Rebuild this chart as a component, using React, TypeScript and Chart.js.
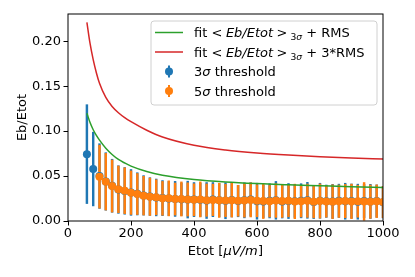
import React, { useEffect, useRef } from 'react';
import { Chart, registerables } from 'chart.js';

Chart.register(...registerables);

// ---------- data ----------
const blueX = [60, 80, 100, 120, 140, 160, 180, 200, 220, 240, 260, 280, 300, 320, 340, 360, 380, 400, 420, 440, 460, 480, 500, 520, 540, 560, 580, 600, 620, 640, 660, 680, 700, 720, 740, 760, 780, 800, 820, 840, 860, 880, 900, 920, 940, 960, 980, 1000];
const blueY = [0.0744, 0.0578, 0.0500, 0.0440, 0.0392, 0.0350, 0.0335, 0.0318, 0.0302, 0.0285, 0.0272, 0.0262, 0.0255, 0.0250, 0.0246, 0.0242, 0.0238, 0.0238, 0.0236, 0.0228, 0.0238, 0.0232, 0.0225, 0.0235, 0.0222, 0.0230, 0.0240, 0.0220, 0.0218, 0.0224, 0.0230, 0.0218, 0.0222, 0.0220, 0.0225, 0.0230, 0.0212, 0.0225, 0.0220, 0.0218, 0.0225, 0.0220, 0.0222, 0.0215, 0.0222, 0.0218, 0.0222, 0.0208];
const blueErr = [0.055, 0.041, 0.036, 0.032, 0.0295, 0.0265, 0.026, 0.0255, 0.0235, 0.022, 0.021, 0.0205, 0.0195, 0.019, 0.0195, 0.018, 0.0205, 0.019, 0.0185, 0.020, 0.019, 0.0185, 0.020, 0.019, 0.0175, 0.0195, 0.0185, 0.020, 0.018, 0.019, 0.021, 0.0185, 0.0195, 0.018, 0.019, 0.020, 0.0185, 0.0195, 0.018, 0.019, 0.0185, 0.020, 0.019, 0.0195, 0.0185, 0.019, 0.018, 0.0175];

const orangeX = [100, 120, 140, 160, 180, 200, 220, 240, 260, 280, 300, 320, 340, 360, 380, 400, 420, 440, 460, 480, 500, 520, 540, 560, 580, 600, 620, 640, 660, 680, 700, 720, 740, 760, 780, 800, 820, 840, 860, 880, 900, 920, 940, 960, 980, 1000];
const orangeY = [0.0493, 0.0437, 0.0389, 0.0352, 0.0337, 0.0315, 0.0300, 0.0282, 0.0270, 0.0264, 0.0252, 0.0252, 0.0244, 0.0245, 0.0240, 0.0236, 0.0240, 0.0232, 0.0235, 0.0230, 0.0228, 0.0232, 0.0225, 0.0228, 0.0235, 0.0225, 0.0222, 0.0220, 0.0228, 0.0222, 0.0225, 0.0218, 0.0220, 0.0226, 0.0215, 0.0222, 0.0218, 0.0215, 0.0220, 0.0222, 0.0218, 0.0220, 0.0218, 0.0215, 0.0220, 0.0212];
const orangeErr = [0.035, 0.0315, 0.029, 0.026, 0.0255, 0.0242, 0.0228, 0.0215, 0.0208, 0.0195, 0.0188, 0.0195, 0.0178, 0.019, 0.0185, 0.0178, 0.0195, 0.018, 0.0175, 0.019, 0.018, 0.0188, 0.0172, 0.0185, 0.019, 0.0178, 0.0195, 0.0175, 0.0188, 0.0182, 0.0178, 0.0192, 0.0175, 0.0185, 0.018, 0.019, 0.0175, 0.0188, 0.018, 0.0185, 0.0192, 0.0178, 0.021, 0.0185, 0.0182, 0.0175];

const fitX = [60, 70, 80, 90, 100, 120, 140, 160, 180, 200, 250, 300, 400, 500, 600, 700, 800, 900, 1000];
const fitRms = [0.120, 0.1095, 0.1015, 0.0952, 0.0900, 0.0810, 0.0740, 0.0685, 0.0645, 0.0610, 0.0550, 0.0510, 0.0462, 0.0434, 0.0416, 0.0403, 0.0392, 0.0381, 0.0372];
const fit3Rms = [0.221, 0.1975, 0.1795, 0.1650, 0.1532, 0.1375, 0.1275, 0.1205, 0.1150, 0.1105, 0.1010, 0.0935, 0.0843, 0.0790, 0.0756, 0.0733, 0.0716, 0.0702, 0.0690];

const xTicks = [0, 200, 400, 600, 800, 1000];
const yTicks = [0.0, 0.05, 0.1, 0.15, 0.2];

const BLUE = '#1f77b4';
const ORANGE = '#ff7f0e';
const GREEN = '#2ca02c';
const RED = '#d62728';
const FONT = '"DejaVu Sans", sans-serif';
const FS = 13;

type Part = { t: string; it?: boolean; small?: boolean; gap?: number; dy?: number };

function drawParts(ctx: CanvasRenderingContext2D, x: number, baseline: number, parts: Part[]) {
  for (const p of parts) {
    const size = p.small ? 9.2 : FS;
    ctx.font = `${p.it ? 'italic ' : ''}${size}px ${FONT}`;
    ctx.fillText(p.t, x, baseline + (p.dy || 0));
    x += ctx.measureText(p.t).width + (p.gap || 0);
  }
  return x;
}

function partsWidth(ctx: CanvasRenderingContext2D, parts: Part[]) {
  let w = 0;
  for (const p of parts) {
    const size = p.small ? 9.2 : FS;
    ctx.font = `${p.it ? 'italic ' : ''}${size}px ${FONT}`;
    w += ctx.measureText(p.t).width + (p.gap || 0);
  }
  return w;
}

const decorPlugin = {
  id: 'decor',
  afterDraw(chart: any) {
    const ctx: CanvasRenderingContext2D = chart.ctx;
    const { left, right, top, bottom } = chart.chartArea;
    ctx.save();
    // spines
    ctx.strokeStyle = '#000';
    ctx.lineWidth = 1;
    ctx.strokeRect(left, top, right - left, bottom - top);

    ctx.fillStyle = '#000';
    ctx.textBaseline = 'alphabetic';
    ctx.textAlign = 'left';

    // x title
    const xParts: Part[] = [{ t: 'Etot [' }, { t: 'μV/m', it: true, gap: 0.5 }, { t: ']' }];
    const xw = partsWidth(ctx, xParts);
    drawParts(ctx, (left + right) / 2 - xw / 2, 255, xParts);

    // y title
    ctx.save();
    ctx.translate(25.5, (top + bottom) / 2);
    ctx.rotate(-Math.PI / 2);
    ctx.font = `${FS}px ${FONT}`;
    ctx.textAlign = 'center';
    ctx.fillText('Eb/Etot', 0, 0);
    ctx.restore();

    // legend
    const lx = 151, ly = 21, lw = 226, lh = 84, r = 3;
    ctx.beginPath();
    ctx.moveTo(lx + r, ly);
    ctx.lineTo(lx + lw - r, ly);
    ctx.quadraticCurveTo(lx + lw, ly, lx + lw, ly + r);
    ctx.lineTo(lx + lw, ly + lh - r);
    ctx.quadraticCurveTo(lx + lw, ly + lh, lx + lw - r, ly + lh);
    ctx.lineTo(lx + r, ly + lh);
    ctx.quadraticCurveTo(lx, ly + lh, lx, ly + lh - r);
    ctx.lineTo(lx, ly + r);
    ctx.quadraticCurveTo(lx, ly, lx + r, ly);
    ctx.closePath();
    ctx.fillStyle = 'rgba(255,255,255,0.8)';
    ctx.fill();
    ctx.strokeStyle = '#d0d0d0';
    ctx.lineWidth = 1;
    ctx.stroke();

    const rows = [32.5, 52, 71.5, 91];
    const hx0 = 155, hx1 = 183, tx = 194;
    [[GREEN, rows[0]], [RED, rows[1]]].forEach(([c, y]: any) => {
      ctx.strokeStyle = c;
      ctx.lineWidth = 1.5;
      ctx.beginPath();
      ctx.moveTo(hx0, y);
      ctx.lineTo(hx1, y);
      ctx.stroke();
    });
    [[BLUE, rows[2]], [ORANGE, rows[3]]].forEach(([c, y]: any) => {
      const cx = (hx0 + hx1) / 2;
      ctx.strokeStyle = c;
      ctx.lineWidth = 2;
      ctx.beginPath();
      ctx.moveTo(cx, y - 6);
      ctx.lineTo(cx, y + 6);
      ctx.stroke();
      ctx.fillStyle = c;
      ctx.beginPath();
      ctx.arc(cx, y, 4, 0, Math.PI * 2);
      ctx.fill();
    });

    ctx.fillStyle = '#000';
    const fitParts = (tail: string): Part[] => [
      { t: 'fit', gap: 4.3 },
      { t: '<', gap: 3.4 },
      { t: 'Eb/Etot', it: true, gap: 3.3 },
      { t: '>', gap: 3.2 },
      { t: '3', small: true, dy: 2.8 },
      { t: 'σ', small: true, it: true, dy: 2.8, gap: 0 },
      { t: ' + ' + tail },
    ];
    const bo = 4.7;
    drawParts(ctx, tx, rows[0] + bo, fitParts('RMS'));
    drawParts(ctx, tx, rows[1] + bo, fitParts('3*RMS'));
    drawParts(ctx, tx, rows[2] + bo, [{ t: '3' }, { t: 'σ', it: true }, { t: ' threshold' }]);
    drawParts(ctx, tx, rows[3] + bo, [{ t: '5' }, { t: 'σ', it: true }, { t: ' threshold' }]);

    ctx.restore();
  },
};

export default function App() {
  const ref = useRef<HTMLCanvasElement>(null);

  useEffect(() => {
    if (!ref.current) return;
    const errBars = (xs: number[], ys: number[], es: number[]) =>
      xs.map((x, i) => ({ x, y: [ys[i] - es[i], ys[i] + es[i]] }));
    const pts = (xs: number[], ys: number[]) => xs.map((x, i) => ({ x, y: ys[i] }));

    const chart = new Chart(ref.current, {
      type: 'scatter',
      data: {
        datasets: [
          {
            type: 'bar',
            data: errBars(blueX, blueY, blueErr) as any,
            backgroundColor: BLUE,
            borderWidth: 0,
            barThickness: 1.8,
            grouped: false,
            order: 7,
          } as any,
          {
            type: 'bar',
            data: errBars(orangeX, orangeY, orangeErr) as any,
            backgroundColor: ORANGE,
            borderWidth: 0,
            barThickness: 1.8,
            grouped: false,
            order: 6,
          } as any,
          {
            type: 'line',
            data: pts(fitX, fit3Rms),
            borderColor: RED,
            borderWidth: 1.5,
            pointRadius: 0,
            cubicInterpolationMode: 'monotone',
            fill: false,
            order: 5,
          } as any,
          {
            type: 'line',
            data: pts(fitX, fitRms),
            borderColor: GREEN,
            borderWidth: 1.5,
            pointRadius: 0,
            cubicInterpolationMode: 'monotone',
            fill: false,
            order: 4,
          } as any,
          {
            type: 'scatter',
            data: pts(blueX, blueY),
            backgroundColor: BLUE,
            pointRadius: 4,
            pointBorderWidth: 0,
            borderWidth: 0,
            order: 3,
          } as any,
          {
            type: 'scatter',
            data: pts(orangeX, orangeY),
            backgroundColor: ORANGE,
            pointRadius: 4,
            pointBorderWidth: 0,
            borderWidth: 0,
            order: 2,
          } as any,
        ],
      },
      options: {
        responsive: false,
        animation: false,
        devicePixelRatio: 1,
        layout: { padding: { top: 14, right: 32, left: 0, bottom: 0 } },
        plugins: { legend: { display: false }, tooltip: { enabled: false } },
        events: [],
        scales: {
          x: {
            type: 'linear',
            min: 0,
            max: 1000,
            offset: false,
            afterFit: (s: any) => { s.height = 56; },
            afterBuildTicks: (s: any) => { s.ticks = xTicks.map((v) => ({ value: v })); },
            grid: { display: true, drawOnChartArea: false, drawTicks: true, tickLength: 4.5, color: '#000', offset: false },
            border: { display: false },
            ticks: { color: '#000', font: { family: FONT, size: FS }, padding: 0, maxRotation: 0, callback: (v: any) => String(v) },
          },
          y: {
            type: 'linear',
            min: 0,
            max: 0.2303,
            afterFit: (s: any) => { s.width = 68; },
            afterBuildTicks: (s: any) => { s.ticks = yTicks.map((v) => ({ value: v })); },
            grid: { display: true, drawOnChartArea: false, drawTicks: true, tickLength: 4.5, color: '#000' },
            border: { display: false },
            ticks: { color: '#000', font: { family: FONT, size: FS }, padding: 2.5, callback: (v: any) => Number(v).toFixed(2) },
          },
        },
      } as any,
      plugins: [decorPlugin],
    });
    return () => chart.destroy();
  }, []);

  return (
    <div style={{ position: 'absolute', left: 0, top: 0, width: 415, height: 277, background: '#fff' }}>
      <canvas ref={ref} width={415} height={277} style={{ display: 'block' }} />
    </div>
  );
}
